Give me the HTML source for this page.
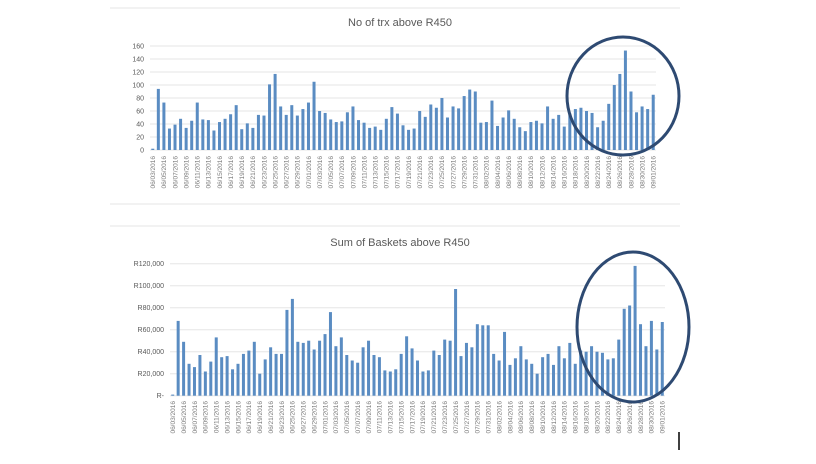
<!DOCTYPE html>
<html><head><meta charset="utf-8"><style>
body{margin:0;background:#fff;width:816px;height:459px;overflow:hidden;font-family:"Liberation Sans",sans-serif}
svg text{font-family:"Liberation Sans",sans-serif}
</style></head><body>
<svg id="s" width="816" height="459">
<line x1="110" y1="8" x2="680" y2="8" stroke="#e4e4e4"/>
<line x1="110" y1="204" x2="680" y2="204" stroke="#e4e4e4"/>
<line x1="110" y1="226" x2="680" y2="226" stroke="#e4e4e4"/>
<text x="400" y="26" text-anchor="middle" font-size="11" fill="#595959">No of trx above R450</text>
<text x="400" y="246" text-anchor="middle" font-size="11" fill="#595959">Sum of Baskets above R450</text>
<g id="c1"></g>
<g id="c2"></g>
<ellipse cx="623" cy="96" rx="56" ry="59" fill="none" stroke="#2e4a72" stroke-width="3"/>
<ellipse cx="633" cy="327" rx="56" ry="75" fill="none" stroke="#2e4a72" stroke-width="3"/>
<line x1="679" y1="432" x2="679" y2="450" stroke="#000" stroke-width="1.5"/>
</svg>
<script>
const trxValues=[2,94,73,33,39,48,34,45,73,47,46,30,43,48,55,69,32,41,34,54,53,101,117,67,54,69,53,63,73,105,60,57,47,43,44,58,67,46,42,34,36,31,48,66,56,38,31,33,60,51,70,65,80,50,67,64,83,93,90,42,43,76,37,50,61,48,35,29,43,45,41,67,48,54,36,56,63,65,60,57,35,45,71,100,117,153,90,58,67,63,85];
const basketValues=[1000,68000,49000,29000,26000,37000,22000,31000,53000,35000,36000,24000,29000,38000,41000,49000,20000,33000,44000,38000,38000,78000,88000,49000,48000,50000,42000,50000,56000,76000,45000,53000,37000,32000,30000,44000,50000,37000,35000,23000,22000,24000,38000,54000,43000,32000,22000,23000,41000,37000,51000,50000,97000,36000,48000,44000,65000,64000,64000,38000,32000,58000,28000,34000,45000,33000,29000,20000,35000,38000,28000,45000,34000,48000,29000,41000,40000,45000,40000,39000,33000,34000,51000,79000,82000,118000,65000,45000,68000,42000,67000];
const trxTicks=[0,20,40,60,80,100,120,140,160];
const basketTicks=[0,20000,40000,60000,80000,100000,120000];
const basketTickLabels=["R-","R20,000","R40,000","R60,000","R80,000","R100,000","R120,000"];
const dates=[];
(function(){const m=[[6,3,30],[7,1,31],[8,1,31],[9,1,1]];for(const [mo,a,b] of m)for(let d=a;d<=b;d++)dates.push(String(mo).padStart(2,'0')+'/'+String(d).padStart(2,'0')+'/2016');})();
const NS="http://www.w3.org/2000/svg";
function mk(g,t,at){const e=document.createElementNS(NS,t);for(const k in at)e.setAttribute(k,at[k]);g.appendChild(e);return e;}
function draw(g,vals,ticks,tickLabs,x0,x1,y0,y1,max,labX,lblY,pre){
 const n=vals.length,bw=(x1-x0)/n;
 const ys=v=>y0-(v/max)*(y0-y1);
 ticks.forEach((t,i)=>{
  const l=mk(g,'line',{x1:x0,x2:x1,y1:ys(t),y2:ys(t),stroke:'#e6e6e6'});
  
  
  const tx=mk(g,'text',{x:labX,y:ys(t)+2.5,'text-anchor':'end','font-size':'7',fill:'#595959'});
  tx.textContent=tickLabs[i];
  
  
 });
 vals.forEach((v,i)=>{
  const cx=x0+bw*(i+0.5);
  const r=mk(g,'rect',{x:cx-1.5,y:ys(v),width:3,height:y0-ys(v),fill:'#5a8cc2'});
  
  
  if(i%2===0&&dates[i]){
   const t=mk(g,'text',{x:0,y:0,'font-size':'6.5',fill:'#7a7a7a','text-anchor':'end',transform:`translate(${cx+2.3},${lblY}) rotate(-90)`});
   t.textContent=dates[i];
   
   
  }
 });
}
draw(document.getElementById('c1'),trxValues,trxTicks,trxTicks.map(String),150,656,150,46,160,144,156,'trx-');
draw(document.getElementById('c2'),basketValues,basketTicks,basketTickLabels,170,665,395.7,263.7,120000,164,401,'basket-');
</script>
</body></html>
